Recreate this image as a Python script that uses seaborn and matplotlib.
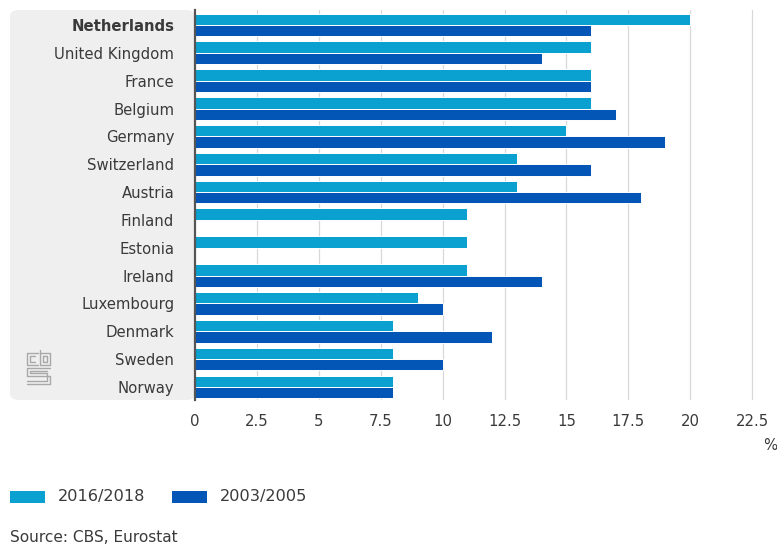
import numpy as np
import pandas as pd
import matplotlib
matplotlib.use("Agg")
import matplotlib.pyplot as plt
from matplotlib.patches import FancyBboxPatch, Rectangle
from matplotlib.lines import Line2D
import seaborn as sns

countries = ["Netherlands", "United Kingdom", "France", "Belgium", "Germany",
             "Switzerland", "Austria", "Finland", "Estonia", "Ireland",
             "Luxembourg", "Denmark", "Sweden", "Norway"]
recent = [20, 16, 16, 16, 15, 13, 13, 11, 11, 11, 9, 8, 8, 8]
earlier = [16, 14, 16, 17, 19, 16, 18, np.nan, np.nan, 14, 10, 12, 10, 8]
periods = ["2016/2018", "2003/2005"]
xticks = [0, 2.5, 5, 7.5, 10, 12.5, 15, 17.5, 20, 22.5]
xtick_labels = ["0", "2.5", "5", "7.5", "10", "12.5", "15", "17.5", "20", "22.5"]

LIGHT = "#0aa0cf"
DARK = "#0456b6"
TEXT = "#3a3a3a"

df = pd.DataFrame({
    "country": countries * 2,
    "period": [periods[0]] * len(countries) + [periods[1]] * len(countries),
    "value": recent + earlier,
})

sns.set_theme(style="white")
plt.rcParams["font.family"] = ["DejaVu Sans"]

W, H = 777, 547
fig = plt.figure(figsize=(W / 100, H / 100), dpi=100)


def px(x, y):
    """Pixel position (from top-left) to figure fraction."""
    return x / W, 1 - y / H


# grey label panel with rounded corners behind the country names
panel = FancyBboxPatch(px(10, 400), (195 - 10) / W, 390 / H,
                       boxstyle="round,pad=0,rounding_size=0.012",
                       transform=fig.transFigure, facecolor="#efefef",
                       edgecolor="none", zorder=-5)
fig.patches.append(panel)

ax = fig.add_axes([195 / W, 1 - 400 / H, (767 - 195) / W, 390 / H])
ax.patch.set_alpha(0)

sns.barplot(data=df, y="country", x="value", hue="period", order=countries,
            hue_order=periods, palette=[LIGHT, DARK], orient="h",
            saturation=1, width=0.82, edgecolor="white", linewidth=0.7,
            ax=ax, legend=False, zorder=3)

ax.set_xlim(0, 23.1)
ax.set_ylim(13.47, -0.54)
ax.set_xticks(xticks)
ax.set_xticklabels(xtick_labels, fontsize=10.7, color=TEXT)
ax.tick_params(axis="x", length=0, pad=10)
ax.tick_params(axis="y", length=0, pad=15, labelsize=10.7, labelcolor=TEXT)
ax.set_xlabel("")
ax.set_ylabel("")
for lbl in ax.get_yticklabels():
    if lbl.get_text() == "Netherlands":
        lbl.set_fontweight("bold")

for x in xticks[1:]:
    ax.axvline(x, color="#d8d8d8", linewidth=0.9, zorder=1)

for side in ["top", "right", "bottom"]:
    ax.spines[side].set_visible(False)
ax.spines["left"].set_color("#555555")
ax.spines["left"].set_linewidth(1.6)
ax.spines["left"].set_zorder(4)

fig.text(763 / W, 1 - 445 / H, "%", fontsize=10.7, color=TEXT,
         ha="left", va="center")

# CBS logo drawn with thin strokes
logo_color = "#a8a8a8"


def seg(xs, ys):
    fig.lines.append(Line2D([x / W for x in xs], [1 - y / H for y in ys],
                            transform=fig.transFigure, color=logo_color,
                            linewidth=1.0))


seg([38, 27, 27, 38], [353, 353, 365, 365])
seg([35, 30, 30, 35], [356, 356, 362, 362])
seg([40, 40, 50, 50, 40], [350, 365, 365, 353, 353])
seg([43, 47, 47, 43, 43], [356, 356, 362, 362, 356])
seg([50, 27, 27, 50, 50, 27], [368, 368, 376, 376, 384, 384])
seg([47, 30, 30, 47, 47, 27], [371, 371, 373, 373, 381, 381])

# legend
fig.patches.append(Rectangle(px(10, 503), 35 / W, 12 / H,
                             transform=fig.transFigure, facecolor=LIGHT,
                             edgecolor="none"))
fig.text(58 / W, 1 - 497 / H, periods[0], fontsize=11.6, color=TEXT,
         va="center", ha="left")
fig.patches.append(Rectangle(px(172, 503), 35 / W, 12 / H,
                             transform=fig.transFigure, facecolor=DARK,
                             edgecolor="none"))
fig.text(220 / W, 1 - 497 / H, periods[1], fontsize=11.6, color=TEXT,
         va="center", ha="left")

fig.text(10 / W, 1 - 537 / H, "Source: CBS, Eurostat", fontsize=11.1,
         color=TEXT, va="center", ha="left")

fig.savefig("out.png", dpi=100, facecolor="white")
